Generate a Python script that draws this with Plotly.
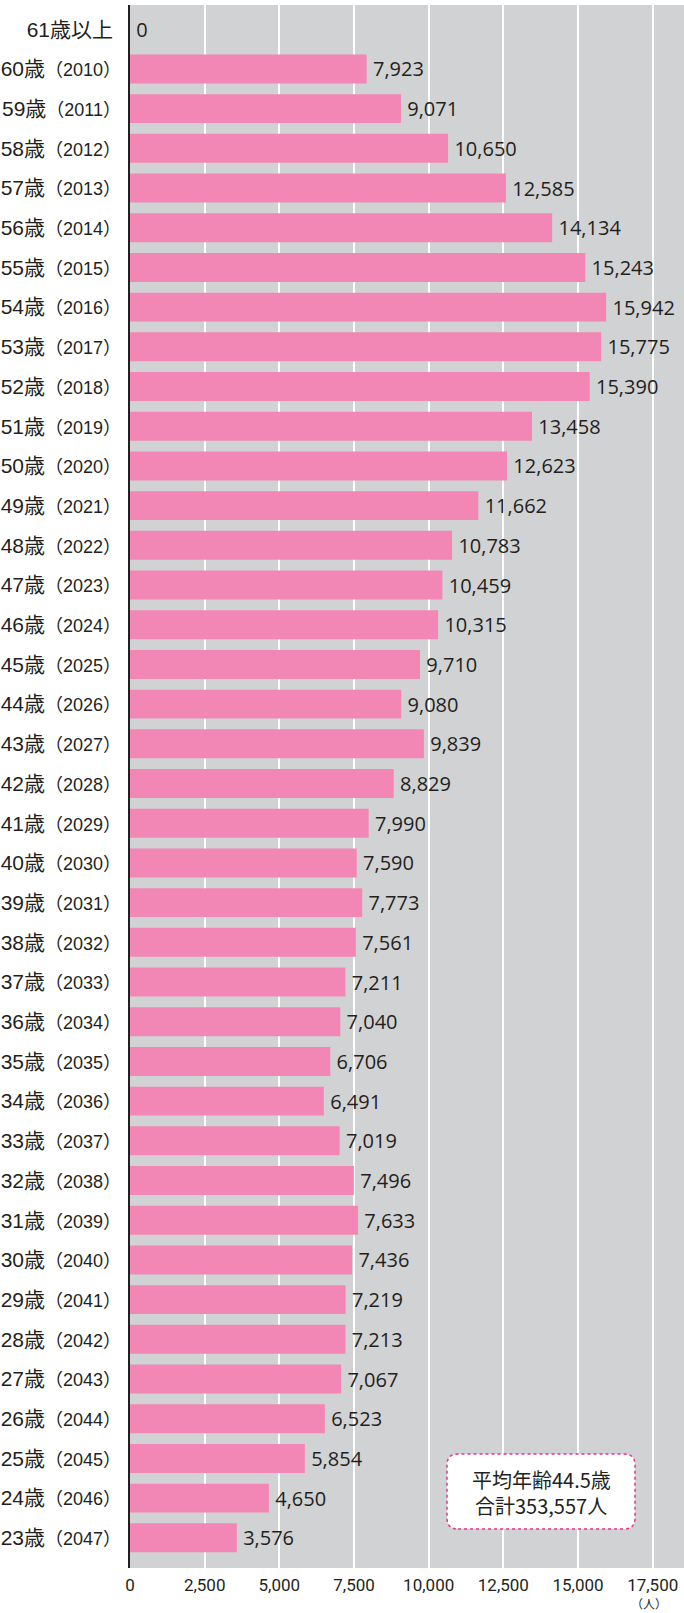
import plotly.graph_objects as go

ages = ["61歳以上", "60歳", "59歳", "58歳", "57歳", "56歳", "55歳", "54歳", "53歳", "52歳",
        "51歳", "50歳", "49歳", "48歳", "47歳", "46歳", "45歳", "44歳", "43歳", "42歳",
        "41歳", "40歳", "39歳", "38歳", "37歳", "36歳", "35歳", "34歳", "33歳", "32歳",
        "31歳", "30歳", "29歳", "28歳", "27歳", "26歳", "25歳", "24歳", "23歳"]
years = [None, 2010, 2011, 2012, 2013, 2014, 2015, 2016, 2017, 2018,
         2019, 2020, 2021, 2022, 2023, 2024, 2025, 2026, 2027, 2028,
         2029, 2030, 2031, 2032, 2033, 2034, 2035, 2036, 2037, 2038,
         2039, 2040, 2041, 2042, 2043, 2044, 2045, 2046, 2047]
values = [0, 7923, 9071, 10650, 12585, 14134, 15243, 15942, 15775, 15390,
          13458, 12623, 11662, 10783, 10459, 10315, 9710, 9080, 9839, 8829,
          7990, 7590, 7773, 7561, 7211, 7040, 6706, 6491, 7019, 7496,
          7633, 7436, 7219, 7213, 7067, 6523, 5854, 4650, 3576]
x_ticks = [0, 2500, 5000, 7500, 10000, 12500, 15000, 17500]
summary_lines = ["平均年齢44.5歳", "合計353,557人"]
unit_label = "（人）"

PINK = "#F287B6"
GREY = "#D1D2D4"
DARK = "#231F20"

positions = list(range(len(ages)))
ticktext = []
for a, y in zip(ages, years):
    if y is None:
        ticktext.append(a + "<span style='font-size:8px'>　</span>")
    else:
        ticktext.append(f"{a}<span style='font-size:18px'>（{y}）</span>")

fig = go.Figure()
fig.add_trace(go.Bar(
    x=values, y=positions, orientation="h",
    marker=dict(color=PINK, line=dict(width=0)),
    width=0.73,
    text=["\u2009" + f"{v:,}" for v in values],
    textposition="outside",
    textfont=dict(family="Open Sans, sans-serif", size=20, color=DARK),
    cliponaxis=False,
    hoverinfo="skip",
))

fig.update_layout(
    width=684, height=1613,
    margin=dict(l=130, r=0, t=5, b=45, autoexpand=False),
    plot_bgcolor=GREY, paper_bgcolor="white",
    showlegend=False,
    xaxis=dict(
        range=[0, 18548], tickvals=x_ticks,
        ticktext=[f"{t:,}" for t in x_ticks],
        showgrid=True, gridcolor="white", gridwidth=1.5,
        zeroline=False, showline=False,
        tickfont=dict(family="Roboto, sans-serif", size=17, color=DARK),
        ticks="outside", ticklen=2, tickcolor="rgba(0,0,0,0)",
    ),
    yaxis=dict(
        range=[38.76, -0.61], tickvals=positions, ticktext=ticktext,
        showgrid=False, zeroline=False,
        showline=True, linecolor=DARK, linewidth=1.5,
        tickfont=dict(family="Liberation Sans, Noto Sans CJK JP, sans-serif", size=21, color=DARK),
        ticks="outside", ticklen=3, tickcolor="rgba(0,0,0,0)",
    ),
)

# summary box (rounded, dashed)
x0, x1 = 0.5722, 0.9116
y0, y1 = 0.02495, 0.07294
rx, ry = 0.0199, 0.0070
path = (f"M {x0+rx},{y0} L {x1-rx},{y0} Q {x1},{y0} {x1},{y0+ry} "
        f"L {x1},{y1-ry} Q {x1},{y1} {x1-rx},{y1} "
        f"L {x0+rx},{y1} Q {x0},{y1} {x0},{y1-ry} "
        f"L {x0},{y0+ry} Q {x0},{y0} {x0+rx},{y0} Z")
fig.add_shape(type="path", path=path, xref="paper", yref="paper",
              fillcolor="white", line=dict(color="#E8318A", width=1.5, dash="dot"),
              layer="above")
fig.add_annotation(x=0.742, y=0.0569, xref="paper", yref="paper", text=summary_lines[0],
                   xanchor="center", yanchor="middle",
                   showarrow=False, font=dict(family="Noto Sans CJK JP, sans-serif", size=20, color=DARK))
fig.add_annotation(x=0.742, y=0.0403, xref="paper", yref="paper", text=summary_lines[1],
                   xanchor="center", yanchor="middle",
                   showarrow=False, font=dict(family="Noto Sans CJK JP, sans-serif", size=20, color=DARK))
fig.add_annotation(x=0.937, y=-0.0228, xref="paper", yref="paper", text=unit_label,
                   xanchor="center", yanchor="middle",
                   showarrow=False, font=dict(family="Noto Sans CJK JP, sans-serif", size=12, color=DARK))

fig.write_html("out.html", config={"displayModeBar": False},
               post_script="document.body.style.margin='0';document.body.style.overflow='hidden';")
